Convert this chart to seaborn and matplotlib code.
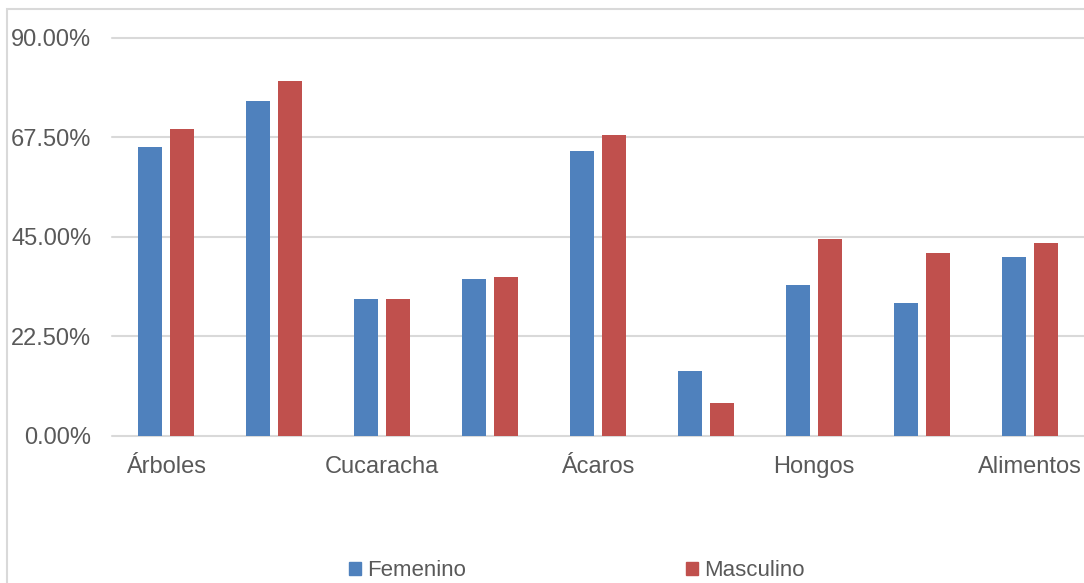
import matplotlib
matplotlib.use("Agg")
import matplotlib.pyplot as plt
from matplotlib.patches import Rectangle
from matplotlib.ticker import FuncFormatter
import pandas as pd
import seaborn as sns

# Category labels (only every other category is labelled on the axis)
categories = ["Árboles", "", "Cucaracha", "", "Ácaros", "", "Hongos", "", "Alimentos"]
series_names = ["Femenino", "Masculino"]
femenino = [65.3, 75.7, 30.9, 35.4, 64.4, 14.6, 34.1, 30.0, 40.4]
masculino = [69.4, 80.2, 30.9, 35.9, 68.0, 7.4, 44.5, 41.3, 43.6]
y_ticks = [0, 22.5, 45, 67.5, 90]

colors = ["#4F81BD", "#C0504D"]
grid_color = "#D9D9D9"
text_color = "#595959"
font_size = 17

sns.set_theme(style="white")
plt.rcParams["font.family"] = ["Liberation Sans", "DejaVu Sans"]

df = pd.DataFrame({
    "pos": list(range(len(categories))) * 2,
    "value": femenino + masculino,
    "sexo": [series_names[0]] * len(femenino) + [series_names[1]] * len(masculino),
})

W, H = 1084, 583
fig = plt.figure(figsize=(W / 100, H / 100), dpi=100)
ax = fig.add_axes([112 / W, 1 - 435.5 / H, (W - 112) / W, (435.5 - 38) / H])

sns.barplot(data=df, x="pos", y="value", hue="sexo", palette=colors,
            width=0.593, gap=0.25, ax=ax, legend=False, saturation=1,
            linewidth=0)

ax.set_ylim(0, 90)
ax.set_xlim(-0.5, len(categories) - 0.5)
ax.set_yticks(y_ticks)
ax.yaxis.set_major_formatter(FuncFormatter(lambda v, p: f"{v:.2f}%"))
ax.set_xticks(range(len(categories)))
ax.set_xticklabels(categories)
ax.set_xlabel("")
ax.set_ylabel("")
for s in ax.spines.values():
    s.set_visible(False)
ax.grid(axis="y", color=grid_color, linewidth=1.5)
ax.set_axisbelow(True)
for line in ax.get_ygridlines():
    line.set_clip_on(False)
ax.tick_params(axis="both", length=0, labelsize=font_size, colors=text_color)
ax.tick_params(axis="y", pad=15)
ax.tick_params(axis="x", pad=15)

# Chart-area border
fig.patches.append(Rectangle((7 / W, -0.1), 1.2, 1 - 9 / H + 0.1,
                             transform=fig.transFigure, fill=False,
                             edgecolor=grid_color, linewidth=1.5))

handles = [Rectangle((0, 0), 1, 1, color=c) for c in colors]
fig.legend(handles, series_names, loc="center", ncol=2,
           bbox_to_anchor=(577 / W, 1 - 571 / H), frameon=False,
           fontsize=16, labelcolor=text_color, handlelength=0.54,
           handleheight=0.54, handletextpad=0.27, columnspacing=9.9)

fig.savefig("out.png", dpi=100)
